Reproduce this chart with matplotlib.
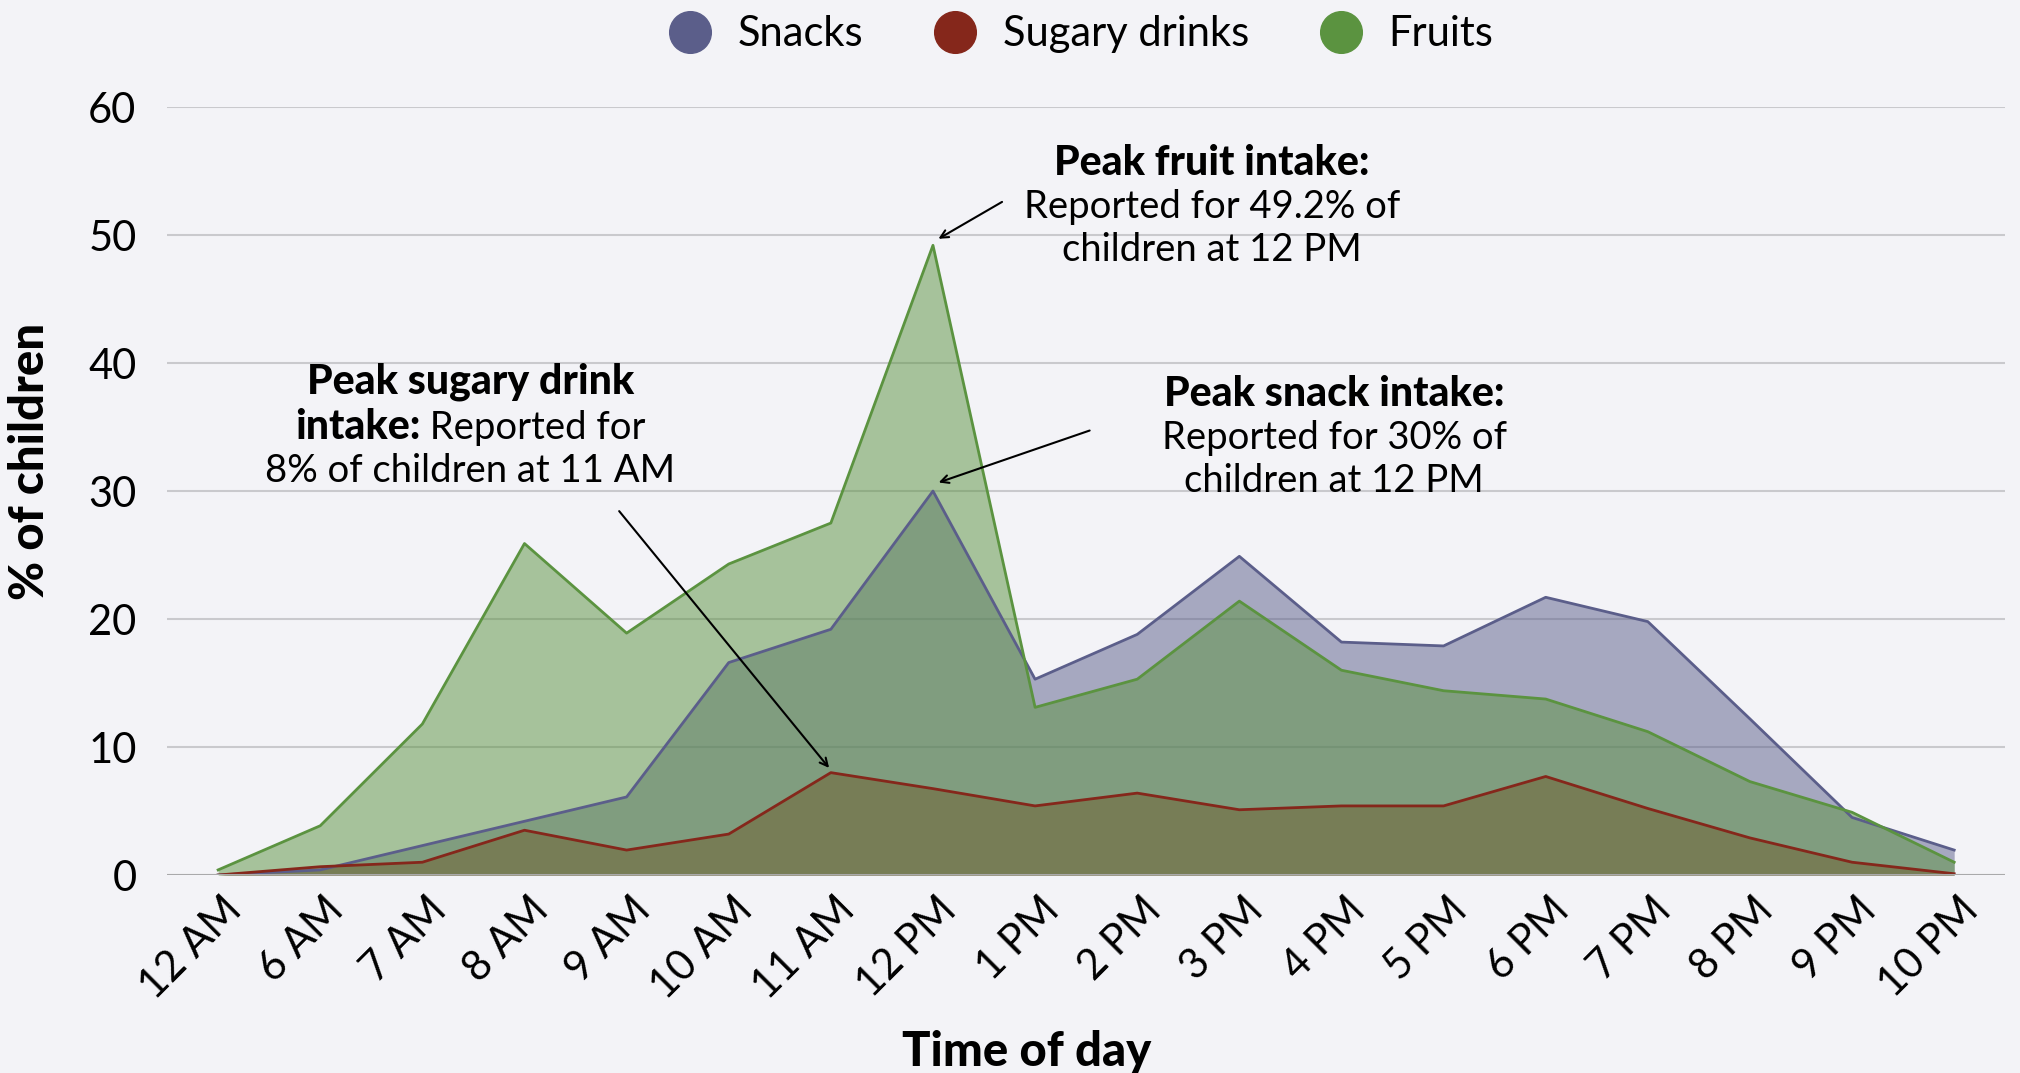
import numpy as np
import matplotlib
matplotlib.use('Agg')
import matplotlib.pyplot as plt
from matplotlib.lines import Line2D
from matplotlib.offsetbox import TextArea, HPacker, VPacker, AnnotationBbox
from matplotlib.transforms import ScaledTranslation

plt.rcParams['font.family'] = ['Lato', 'DejaVu Sans']

# data (% of children)
times = ['12 AM', '6 AM', '7 AM', '8 AM', '9 AM', '10 AM', '11 AM', '12 PM', '1 PM',
         '2 PM', '3 PM', '4 PM', '5 PM', '6 PM', '7 PM', '8 PM', '9 PM', '10 PM']
snacks = [0.0, 0.4, 2.3, 4.2, 6.1, 16.6, 19.2, 30.0, 15.3, 18.8, 24.9, 18.2, 17.9,
          21.7, 19.8, 12.2, 4.5, 1.95]
sugary = [0.0, 0.65, 1.0, 3.5, 1.95, 3.2, 8.0, 6.75, 5.4, 6.4, 5.1, 5.4, 5.4,
          7.7, 5.2, 2.9, 1.0, 0.1]
fruits = [0.4, 3.85, 11.8, 25.9, 18.9, 24.3, 27.5, 49.2, 13.1, 15.3, 21.4, 16.0, 14.4,
          13.75, 11.2, 7.3, 4.9, 1.0]
yticks = [0, 10, 20, 30, 40, 50, 60]

series = [('Snacks', snacks, '#5b5e8a'),
          ('Sugary drinks', sugary, '#85271b'),
          ('Fruits', fruits, '#5b9340')]

bg = '#f3f3f7'
fig = plt.figure(figsize=(20.2, 10.73), dpi=100, facecolor=bg)
ax = fig.add_axes([0.0827, 0.1845, 0.91, 0.7157], facecolor=bg)

x = np.arange(len(times))

# fills first, lines on top
for name, vals, col in series:
    ax.fill_between(x, 0, vals, color=col, alpha=0.5, lw=0, zorder=2)
for name, vals, col in series:
    ax.plot(x, vals, color=col, lw=2.0, zorder=3)

ax.set_xlim(-0.5, len(times) - 0.5)
ax.set_ylim(0, 60)
ax.set_yticks(yticks)
ax.set_xticks(x)
ax.set_xticklabels(times, rotation=45, ha='right', rotation_mode='anchor')
ax.tick_params(axis='both', length=0)
ax.tick_params(axis='y', pad=22, labelsize=30)
ax.tick_params(axis='x', pad=11, labelsize=30)
for lab in ax.get_xticklabels():
    lab.set_transform(lab.get_transform() + ScaledTranslation(0.04, 0, fig.dpi_scale_trans))

for s in ax.spines.values():
    s.set_visible(False)
ax.grid(axis='y', color='#c9c9cd', lw=1.5, zorder=1)
ax.axhline(0, color='#a9a9ab', lw=2.2, zorder=4)

fig.text(0.508, 0.02, 'Time of day', fontsize=34, fontweight='black', ha='center', va='center')
fig.text(0.015, 0.57, '% of children', fontsize=34, fontweight='black', rotation=90,
         ha='center', va='center')

# legend
handles = [Line2D([], [], marker='o', ls='', markersize=30, color=c) for _, _, c in series]
fig.legend(handles, [n for n, _, _ in series], loc='center', bbox_to_anchor=(0.53, 0.968),
           ncol=3, frameon=False, fontsize=30, handletextpad=0.15, columnspacing=1.2)


def block(lines, cx, cy):
    rows = []
    for parts in lines:
        items = [TextArea(t, textprops=dict(fontsize=(29.5 if b else 27.5),
                                            fontweight=('black' if b else 'normal')))
                 for t, b in parts]
        rows.append(HPacker(children=items, pad=0, sep=0, align='baseline'))
    box = VPacker(children=rows, pad=0, sep=5, align='center')
    ax.add_artist(AnnotationBbox(box, (cx, cy), xycoords='data', frameon=False,
                                 box_alignment=(0.5, 0.5), zorder=6))


def arrow(x0, y0, x1, y1):
    ax.annotate('', xy=(x1, y1), xytext=(x0, y0),
                arrowprops=dict(arrowstyle='->', color='black', lw=1.5, mutation_scale=14),
                zorder=6)


block([[('Peak sugary drink', True)],
       [('intake:', True), (' Reported for', False)],
       [('8% of children at 11 AM', False)]], 2.47, 35.1)
arrow(3.91, 28.6, 6.0, 8.2)

block([[('Peak fruit intake:', True)],
       [('Reported for 49.2% of', False)],
       [('children at 12 PM', False)]], 9.73, 52.3)
arrow(7.7, 52.7, 7.03, 49.6)

block([[('Peak snack intake:', True)],
       [('Reported for 30% of', False)],
       [('children at 12 PM', False)]], 10.93, 34.2)
arrow(8.56, 34.8, 7.03, 30.6)

fig.savefig('out.png', dpi=100, facecolor=bg)
